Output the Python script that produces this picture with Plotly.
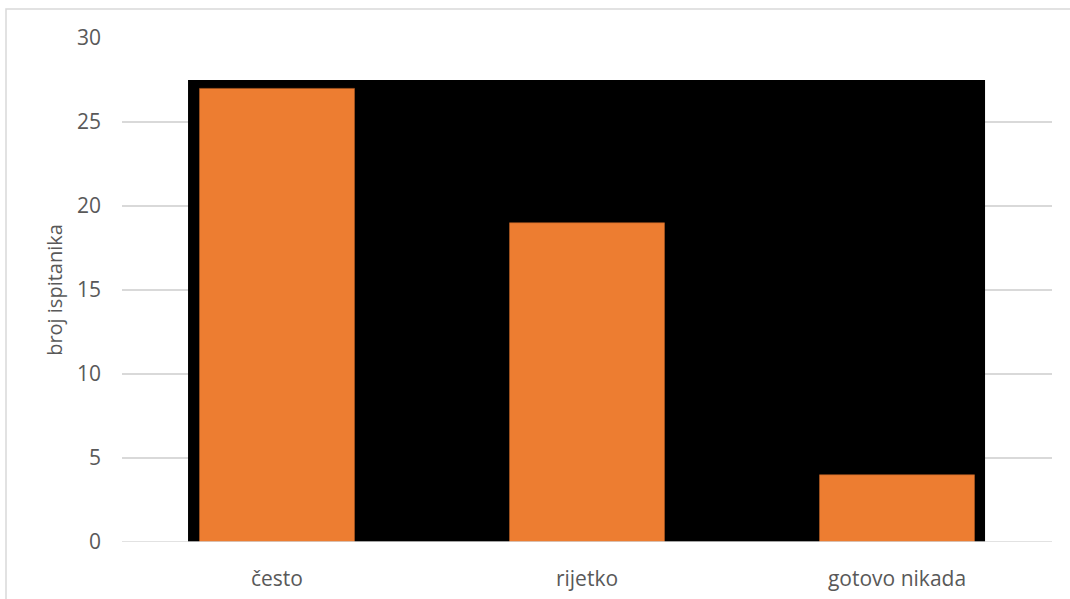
import plotly.graph_objects as go

categories = ["često", "rijetko", "gotovo nikada"]
values = [27, 19, 4]
y_ticks = [0, 5, 10, 15, 20, 25, 30]
y_title = "broj ispitanika"

W, H = 1070, 599
ml, mr, mt, mb = 122, 18, 38, 57
pw, ph = W - ml - mr, H - mt - mb

def px_x(p):
    return (p - ml) / pw

def px_y(p):
    return (H - mb - p) / ph

fig = go.Figure()
fig.add_trace(go.Bar(
    x=categories, y=values, width=0.5,
    marker=dict(color="#ED7D31", line=dict(color="#B35D24", width=0.6)),
))

shapes = [
    # black backdrop behind bars
    dict(type="rect", xref="x", yref="y", x0=-0.287, x1=2.284, y0=-0.15, y1=27.5,
         fillcolor="black", line=dict(width=0), layer="between"),
    # zero grid line on top of backdrop
    dict(type="line", xref="paper", yref="y", x0=0, x1=1, y0=0, y1=0,
         line=dict(color="#d9d9d9", width=1.5), layer="above"),
    # outer chart border
    dict(type="rect", xref="paper", yref="paper", x0=px_x(6), x1=px_x(W + 20),
         y0=px_y(H + 20), y1=px_y(9), fillcolor="rgba(0,0,0,0)",
         line=dict(color="#d9d9d9", width=1.5), layer="below"),
]

fig.update_layout(
    width=W, height=H,
    margin=dict(l=ml, r=mr, t=mt, b=mb, autoexpand=False),
    paper_bgcolor="white", plot_bgcolor="white",
    showlegend=False,
    font=dict(family="Open Sans, Liberation Sans, sans-serif", color="#595959", size=21),
    shapes=shapes,
    bargap=0.5,
)
fig.update_xaxes(
    type="category", range=[-0.5, 2.5], showgrid=False, showline=False, automargin=False,
    ticks="", ticklabelstandoff=22, tickfont=dict(size=21, color="#595959"),
)
fig.update_yaxes(
    range=[0, 30], tickvals=y_ticks, showgrid=True, gridcolor="#d9d9d9", gridwidth=1.5,
    zeroline=False, showline=False, ticks="", ticklabelstandoff=20, automargin=False,
    tickfont=dict(size=21, color="#595959"),
    title=dict(text=y_title, font=dict(size=20, color="#595959"), standoff=8),
)

fig.write_html(
    "out.html",
    config={"displayModeBar": False},
    post_script="document.body.style.margin='0px';document.body.style.overflow='hidden';",
)
